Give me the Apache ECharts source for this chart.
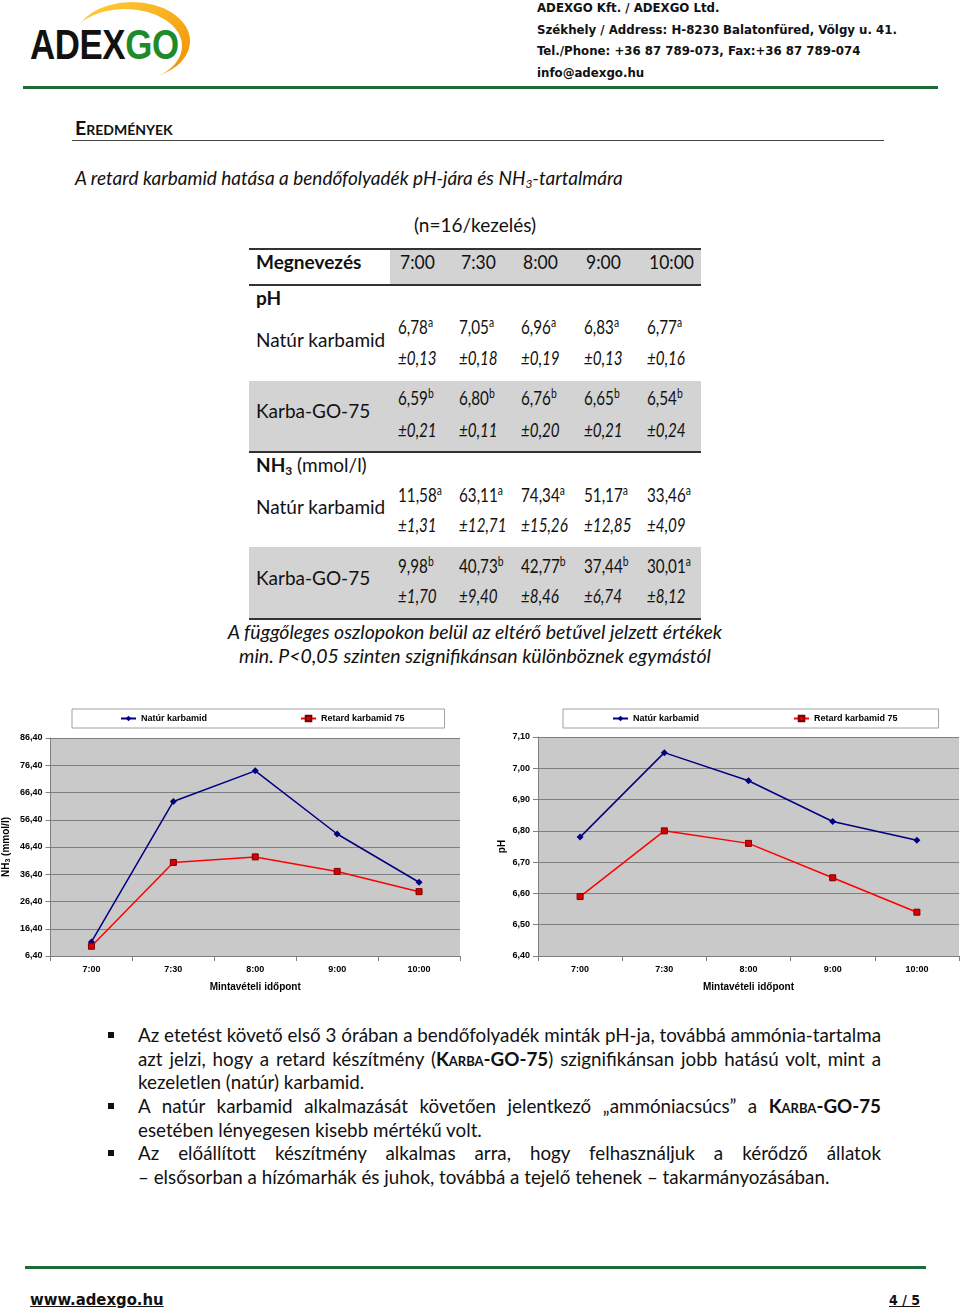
<!DOCTYPE html>
<html>
<head>
<meta charset="utf-8">
<script src="https://cdn.jsdelivr.net/npm/echarts@6/dist/echarts.min.js"></script>
<style>
  html, body { margin: 0; padding: 0; background: #fff; }
  #page { position: relative; width: 960px; height: 1310px; overflow: hidden; font-family: Lato, sans-serif; color: #111; }
  .abs { position: absolute; white-space: nowrap; }
  .hdr { font-family: "DejaVu Sans Condensed", "DejaVu Sans", sans-serif; font-weight: bold; font-size: 13.1px; line-height: 21.7px; color: #111; }
  .tx { font-size: 19px; line-height: 24px; }
  .num { transform: scaleX(0.8); transform-origin: left center; }
  .sup { font-size: 13px; vertical-align: 7px; }
  .bar { position: absolute; }
  .bl { position: absolute; left: 138px; width: 743px; font-size: 18.8px; line-height: 24px; white-space: nowrap; }
  .bl.j { text-align: justify; text-align-last: justify; }
  .sc { font-weight: bold; font-variant: small-caps; }
  .bullet { position: absolute; left: 108px; width: 6px; height: 6px; background: #111; }
</style>
</head>
<body>
<div id="page">
  <!-- logo -->
  <svg class="abs" style="left:20px;top:0" width="185" height="88">
    <defs>
      <linearGradient id="og" x1="0" y1="0" x2="1" y2="1">
        <stop offset="0" stop-color="#ffd23c"/>
        <stop offset="1" stop-color="#f08c00"/>
      </linearGradient>
    </defs>
    <ellipse cx="112" cy="41" rx="58" ry="39" fill="url(#og)"/>
    <ellipse cx="105" cy="46" rx="57" ry="37" fill="#fff"/>
  </svg>
  <div class="abs" style="left:30px;top:20px;font-family:'Liberation Sans',Arial,sans-serif;font-weight:bold;font-size:42px;line-height:50px;transform:scaleX(0.83);transform-origin:left;letter-spacing:-0.5px">
    <span style="color:#111">ADEX</span><span style="color:#1f8a2a">GO</span>
  </div>

  <div class="abs hdr" style="left:537px;top:-3px">ADEXGO Kft. / ADEXGO Ltd.<br>Székhely / Address: H-8230 Balatonfüred, Völgy u. 41.<br>Tel./Phone: +36 87 789-073, Fax:+36 87 789-074<br>info@adexgo.hu</div>
  <div class="bar" style="left:23px;top:86px;width:915px;height:3px;background:#1e6b3c"></div>

  <div class="abs" style="left:75px;top:116px;font-size:19.5px;line-height:24px;font-weight:bold;font-variant:small-caps">Eredmények</div>
  <div class="bar" style="left:72px;top:140px;width:812px;height:1px;background:#444"></div>

  <div class="abs" style="left:75px;top:166px;font-size:19px;line-height:24px;font-style:italic">A retard karbamid hatása a bendőfolyadék pH-jára és NH<sub style="font-size:12px;vertical-align:-3px">3</sub>-tartalmára</div>

  <div class="abs tx" style="left:0;width:950px;text-align:center;top:213px">(n=16/kezelés)</div>

  <div id="table"></div>

  <div class="abs" style="left:0;width:950px;text-align:center;top:620px;font-size:19.5px;line-height:24px;font-style:italic">A függőleges oszlopokon belül az eltérő betűvel jelzett értékek<br>min. P&lt;0,05 szinten szignifikánsan különböznek egymástól</div>

  <div id="chart" style="position:absolute;left:0;top:700px;width:960px;height:300px"></div>

  <div class="bullet" style="top:1032px"></div>
  <div class="bl j" style="top:1023px">Az etetést követő első 3 órában a bendőfolyadék minták pH-ja, továbbá ammónia-tartalma</div>
  <div class="bl j" style="top:1047px">azt jelzi, hogy a retard készítmény (<span class="sc">Karba-GO-75</span>) szignifikánsan jobb hatású volt, mint a</div>
  <div class="bl" style="top:1070px">kezeletlen (natúr) karbamid.</div>
  <div class="bullet" style="top:1103px"></div>
  <div class="bl j" style="top:1094px">A natúr karbamid alkalmazását követően jelentkező „ammóniacsúcs” a <span class="sc">Karba-GO-75</span></div>
  <div class="bl" style="top:1118px">esetében lényegesen kisebb mértékű volt.</div>
  <div class="bullet" style="top:1150px"></div>
  <div class="bl j" style="top:1141px">Az előállított készítmény alkalmas arra, hogy felhasználjuk a kérődző állatok</div>
  <div class="bl" style="top:1165px">– elsősorban a hízómarhák és juhok, továbbá a tejelő tehenek – takarmányozásában.</div>

  <div class="bar" style="left:25px;top:1266px;width:901px;height:3px;background:#1e6b3c"></div>
  <div class="abs" style="left:30px;top:1289px;font-family:'DejaVu Sans Condensed',sans-serif;font-weight:bold;font-size:16.5px;line-height:22px;text-decoration:underline">www.adexgo.hu</div>
  <div class="abs" style="left:889px;top:1289px;font-family:'DejaVu Sans Condensed',sans-serif;font-weight:bold;font-size:14px;line-height:22px;text-decoration:underline">4 / 5</div>
</div>

<script>
  // mintavételi időpontok
  var times = ['7:00', '7:30', '8:00', '9:00', '10:00']
  var seriesNames = ['Natúr karbamid', 'Retard karbamid 75']

  // pH
  var phNatur = [6.78, 7.05, 6.96, 6.83, 6.77]
  var phNaturSd = [0.13, 0.18, 0.19, 0.13, 0.16]
  var phNaturSig = ['a', 'a', 'a', 'a', 'a']
  var phKarba = [6.59, 6.80, 6.76, 6.65, 6.54]
  var phKarbaSd = [0.21, 0.11, 0.20, 0.21, 0.24]
  var phKarbaSig = ['b', 'b', 'b', 'b', 'b']

  // NH3 (mmol/l)
  var nh3Natur = [11.58, 63.11, 74.34, 51.17, 33.46]
  var nh3NaturSd = [1.31, 12.71, 15.26, 12.85, 4.09]
  var nh3NaturSig = ['a', 'a', 'a', 'a', 'a']
  var nh3Karba = [9.98, 40.73, 42.77, 37.44, 30.01]
  var nh3KarbaSd = [1.70, 9.40, 8.46, 6.74, 8.12]
  var nh3KarbaSig = ['b', 'b', 'b', 'b', 'a']

  // tengelyek: min, max, lépés
  var nh3Axis = [6.4, 86.4, 10]
  var phAxis = [6.4, 7.1, 0.1]

  var fmt = function (v) { return v.toFixed(2).replace('.', ',') }

  // ---- táblázat ----
  var colLeft = [398, 459, 521, 584, 647]
  var html = ''
  var box = function (l, t, w, h, c) {
    html += '<div class="bar" style="left:' + l + 'px;top:' + t + 'px;width:' + w + 'px;height:' + h + 'px;background:' + c + '"></div>'
  }
  var txt = function (l, cy, s, extra, cls) {
    html += '<div class="abs tx ' + (cls || '') + '" style="left:' + l + 'px;top:' + (cy - 12) + 'px;' + (extra || '') + '">' + s + '</div>'
  }
  box(390, 250, 311, 35, '#d3d3d3')
  box(249, 381, 452, 70, '#d3d3d3')
  box(249, 547, 452, 71, '#d3d3d3')
  box(249, 248, 452, 2, '#333')
  box(249, 284, 452, 2, '#333')
  box(249, 451, 452, 2, '#333')
  box(249, 618, 452, 2, '#333')
  txt(256, 262, 'Megnevezés', 'font-weight:bold')
  times.forEach(function (t, i) { txt(colLeft[i] + 2, 262, t, 'transform:scaleX(0.92);transform-origin:left center') })
  txt(256, 298, 'pH', 'font-weight:bold')
  txt(256, 340, 'Natúr karbamid')
  txt(256, 411, 'Karba-GO-75')
  txt(256, 465, '<b>NH<sub style="font-size:12px;vertical-align:-3px">3</sub></b> (mmol/l)')
  txt(256, 507, 'Natúr karbamid')
  txt(256, 578, 'Karba-GO-75')
  var rows = [
    [phNatur, phNaturSd, phNaturSig, 322, 358],
    [phKarba, phKarbaSd, phKarbaSig, 393, 430],
    [nh3Natur, nh3NaturSd, nh3NaturSig, 490, 525],
    [nh3Karba, nh3KarbaSd, nh3KarbaSig, 561, 596]
  ]
  rows.forEach(function (r) {
    r[0].forEach(function (v, i) {
      txt(colLeft[i], r[3], fmt(v) + '<span class="sup">' + r[2][i] + '</span>', '', 'num')
      txt(colLeft[i], r[4], '±' + fmt(r[1][i]), 'font-style:italic', 'num')
    })
  })
  document.getElementById('table').innerHTML = html

  // ---- diagramok ----
  var labelStyle = { fontFamily: 'Liberation Sans, Arial', fontWeight: 'bold', fontSize: 9, color: '#000' }
  var gridColor = '#7f7f7f'

  var buildLegend = function (left, padL, padR, gap) {
    return {
      left: left,
      top: 9,
      orient: 'horizontal',
      backgroundColor: '#fff',
      borderColor: '#a0a0a0',
      borderWidth: 1,
      borderRadius: 0,
      padding: [5, padR, 5, padL],
      itemGap: gap,
      itemWidth: 15,
      itemHeight: 7,
      textStyle: labelStyle,
      data: seriesNames
    }
  }

  var buildX = function (gridIndex) {
    return {
      type: 'category',
      gridIndex: gridIndex,
      data: times,
      boundaryGap: true,
      axisLine: { lineStyle: { color: gridColor, width: 1 } },
      axisTick: { show: true, length: 5, lineStyle: { color: gridColor } },
      axisLabel: Object.assign({ margin: 9 }, labelStyle),
      name: 'Mintavételi időpont',
      nameLocation: 'middle',
      nameGap: 26,
      nameTextStyle: { fontFamily: 'Liberation Sans, Arial', fontWeight: 'bold', fontSize: 10, color: '#000' }
    }
  }

  var buildY = function (gridIndex, range, name, nameGap) {
    return {
      type: 'value',
      gridIndex: gridIndex,
      min: range[0],
      max: range[1],
      interval: range[2],
      axisLine: { show: true, lineStyle: { color: gridColor, width: 1 } },
      axisTick: { show: true, length: 5, lineStyle: { color: gridColor } },
      axisLabel: Object.assign({ margin: 8, formatter: fmt }, labelStyle),
      splitLine: { show: true, lineStyle: { color: gridColor, width: 1 } },
      name: name,
      nameLocation: 'middle',
      nameGap: nameGap,
      nameTextStyle: {
        fontFamily: 'Liberation Sans, Arial', fontWeight: 'bold', fontSize: 10, color: '#000',
        rich: {
          b: { fontFamily: 'Liberation Sans, Arial', fontWeight: 'bold', fontSize: 10, color: '#000' },
          s: { fontFamily: 'Liberation Sans, Arial', fontWeight: 'bold', fontSize: 7, color: '#000', verticalAlign: 'bottom', padding: [4, 0, 0, 0] }
        }
      }
    }
  }

  var buildSeries = function (idx, natur, karba) {
    return [{
      name: seriesNames[0],
      type: 'line',
      xAxisIndex: idx,
      yAxisIndex: idx,
      data: natur,
      symbol: 'diamond',
      symbolSize: 7,
      lineStyle: { color: '#000080', width: 1.5 },
      itemStyle: { color: '#000080' }
    }, {
      name: seriesNames[1],
      type: 'line',
      xAxisIndex: idx,
      yAxisIndex: idx,
      data: karba,
      symbol: 'rect',
      symbolSize: 6,
      lineStyle: { color: '#ff0000', width: 1.5 },
      itemStyle: { color: '#d80000', borderColor: '#7a0000', borderWidth: 1 }
    }]
  }

  var option = {
    animation: false,
    legend: [buildLegend(72, 48, 40, 93), buildLegend(563, 49, 41, 94)],
    grid: [
      { left: 48, top: 38, width: 412, height: 218, show: true, backgroundColor: '#c9c9c9', borderWidth: 0 },
      { left: 538, top: 37, width: 421, height: 219, show: true, backgroundColor: '#c9c9c9', borderWidth: 0 }
    ],
    xAxis: [buildX(0), buildX(1)],
    yAxis: [
      buildY(0, nh3Axis, '{b|NH}{s|3}{b| (mmol/l)}', 39),
      buildY(1, phAxis, 'pH', 31)
    ],
    series: buildSeries(0, nh3Natur, nh3Karba).concat(buildSeries(1, phNatur, phKarba))
  }

  var EC = echarts.init(document.getElementById('chart'))
  EC.setOption(option)
</script>
</body>
</html>
